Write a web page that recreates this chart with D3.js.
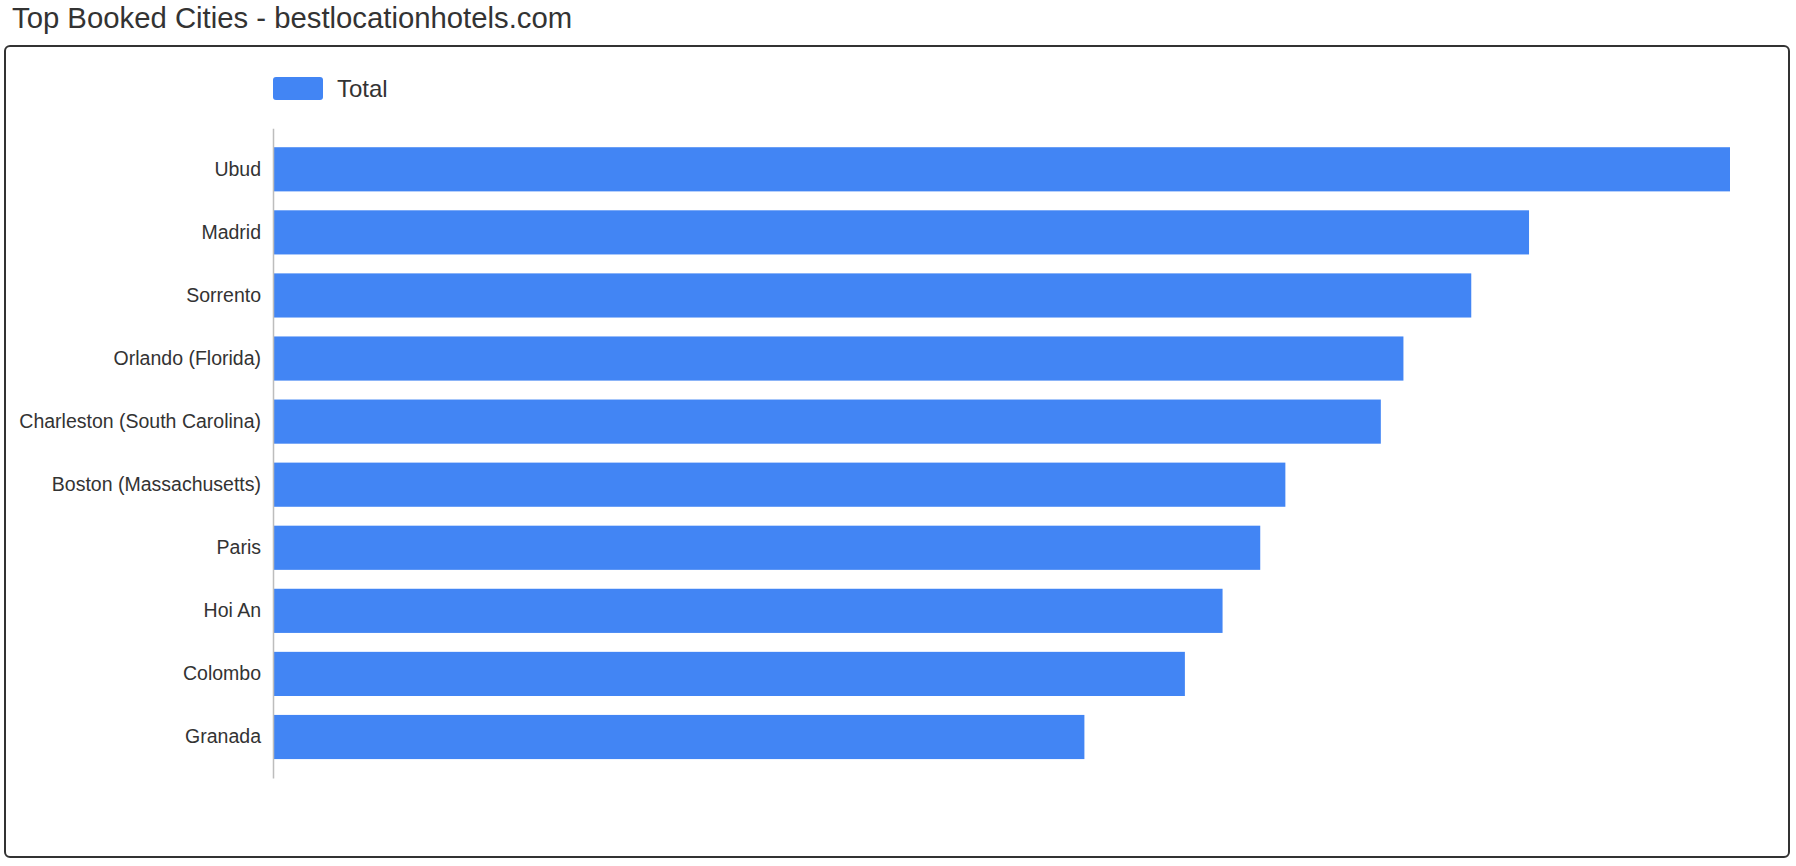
<!DOCTYPE html>
<html>
<head>
<meta charset="utf-8">
<script src="https://cdn.jsdelivr.net/npm/d3@7"></script>
<style>
  body { margin: 0; background: #fff; }
  svg { display: block; font-family: "Liberation Sans", Arial, sans-serif; }
</style>
</head>
<body>
<div class="canvas"></div>
<script>
// bookings per city (no axis shown)
const cities = [
	"Ubud",
	"Madrid",
	"Sorrento",
	"Orlando (Florida)",
	"Charleston (South Carolina)",
	"Boston (Massachusetts)",
	"Paris",
	"Hoi An",
	"Colombo",
	"Granada",
];
const totals = [580, 500, 477, 450, 441, 403, 393, 378, 363, 323];
const seriesName = "Total";
const chartTitle = "Top Booked Cities - bestlocationhotels.com";

const dimensions = { width: 1796, height: 866 };
const plot = { left: 273, right: 1730, top: 128.3, bottom: 778 };
const barColor = "#4285F4";
const textColor = "#333";

const data = cities.map((name, i) => ({ name, total: totals[i] }));

const svg = d3
	.select(".canvas")
	.append("svg")
	.attr("width", dimensions.width)
	.attr("height", dimensions.height);

// title
svg
	.append("text")
	.attr("x", 12)
	.attr("y", 28)
	.attr("font-size", "29.3px")
	.attr("fill", textColor)
	.text(chartTitle);

// frame
svg
	.append("rect")
	.attr("x", 5)
	.attr("y", 46)
	.attr("width", 1784)
	.attr("height", 811)
	.attr("rx", 5)
	.attr("fill", "none")
	.attr("stroke", "#333")
	.attr("stroke-width", 2);

const x = d3
	.scaleLinear()
	.domain([0, d3.max(totals)])
	.range([plot.left, plot.right]);

const y = d3
	.scaleBand()
	.domain(cities)
	.range([plot.top, plot.bottom])
	.paddingInner(0.3)
	.paddingOuter(0.3);

// bars
svg
	.append("g")
	.selectAll("rect")
	.data(data)
	.enter()
	.append("rect")
	.attr("x", x(0))
	.attr("y", (d) => y(d.name))
	.attr("width", (d) => x(d.total) - x(0))
	.attr("height", y.bandwidth())
	.attr("fill", barColor);

// category axis
const yAxis = svg
	.append("g")
	.attr("transform", `translate(${plot.left}, 0)`)
	.call(d3.axisLeft(y).tickSize(0).tickPadding(12));
yAxis.select(".domain").attr("stroke", "#bdbdbd").attr("stroke-width", 1.5);
yAxis
	.selectAll("text")
	.attr("font-family", "'Liberation Sans', Arial, sans-serif")
	.attr("font-size", "19.5px")
	.attr("fill", textColor);

// legend
const legend = svg.append("g").attr("transform", `translate(${plot.left}, 77)`);
legend
	.append("rect")
	.attr("width", 50)
	.attr("height", 23)
	.attr("rx", 3)
	.attr("fill", barColor);
legend
	.append("text")
	.attr("x", 64)
	.attr("y", 20)
	.attr("font-size", "24px")
	.attr("fill", textColor)
	.text(seriesName);
</script>
</body>
</html>
